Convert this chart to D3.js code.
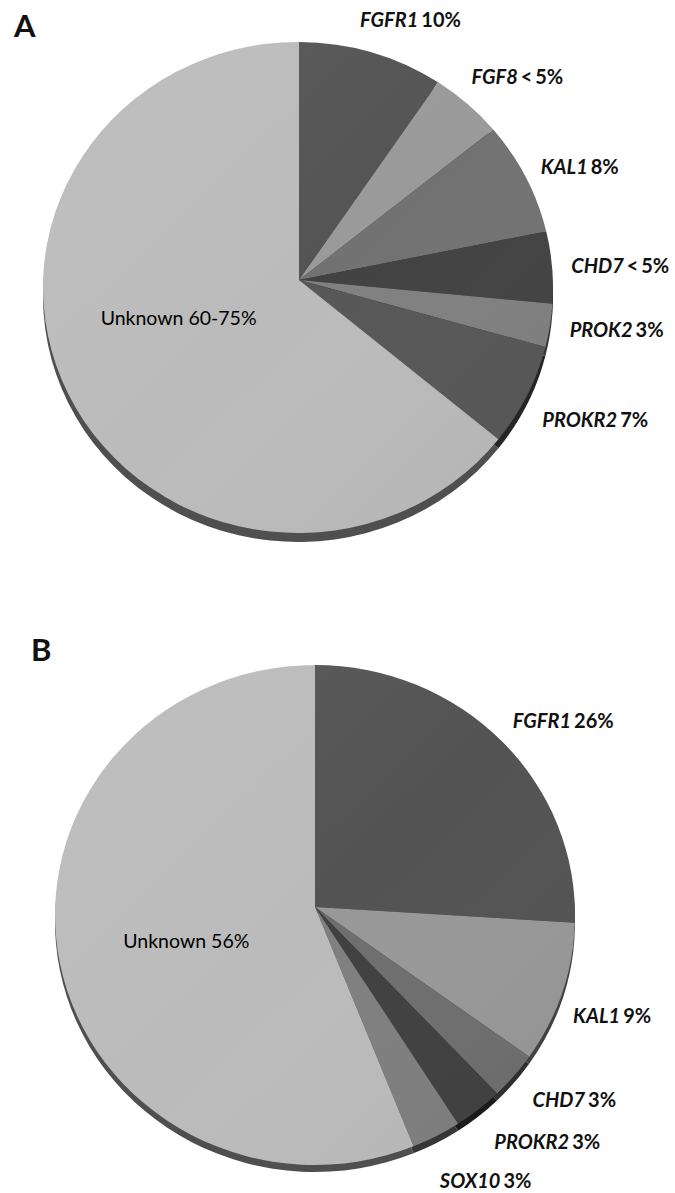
<!DOCTYPE html>
<html>
<head>
<meta charset="utf-8">
<script src="https://cdn.jsdelivr.net/npm/d3@7"></script>
<style>
  body { margin: 0; background: #fff; }
  svg { display: block; }
  text { font-family: Lato, "Open Sans", sans-serif; font-weight: 700; fill: #111; }
</style>
</head>
<body>
<svg id="chart" width="675" height="1193"></svg>
<script>
// ---- Panel A: genes implicated in Kallmann syndrome / nCHH ----
const genesA  = ["FGFR1", "FGF8", "KAL1", "CHD7", "PROK2", "PROKR2", "Unknown"];
const valuesA = [10, 5, 8, 5, 3, 7, 67.5];
const pctA    = ["10%", "< 5%", "8%", "< 5%", "3%", "7%", "60-75%"];

// ---- Panel B ----
const genesB  = ["FGFR1", "KAL1", "CHD7", "PROKR2", "SOX10", "Unknown"];
const valuesB = [26, 9, 3, 3, 3, 56];
const pctB    = ["26%", "9%", "3%", "3%", "3%", "56%"];

// ---- styling / layout ----
const fillsA = ["#545454", "#9a9a9a", "#727272", "#424242", "#808080", "#575757", "#bbbbbb"];
const fillsB = ["#535353", "#989898", "#6e6e6e", "#404040", "#7f7f7f", "#bbbbbb"];

const layoutA = { letter: "A", letterX: 14, letterY: 37, cx: 298, cy: 287.5, rx: 255, ry: 245.5,
                  ax: 299, ay: 280, depth: 9,
                  nudge: [[0, -2], [0, -4], [0, 2], [-2, 0], [0, 0], [0, 14], [-5, -14]] };
const layoutB = { letter: "B", letterX: 31, letterY: 661, cx: 315, cy: 915, rx: 260, ry: 250,
                  ax: 315, ay: 907, depth: 7,
                  nudge: [[6, 2], [-6, 16], [8, 11], [9, 18], [0, 29], [-1, 11]] };

const svg = d3.select("#chart");
svg.append("rect").attr("width", 675).attr("height", 1193).attr("fill", "#fff");

const defs = svg.append("defs");
const shade = defs.append("linearGradient").attr("id", "shade")
  .attr("x1", 0).attr("y1", 0).attr("x2", 1).attr("y2", 1);
shade.append("stop").attr("offset", 0).attr("stop-color", "#fff").attr("stop-opacity", 0.07);
shade.append("stop").attr("offset", 0.5).attr("stop-color", "#fff").attr("stop-opacity", 0);
shade.append("stop").attr("offset", 1).attr("stop-color", "#000").attr("stop-opacity", 0.06);

function drawPie(genes, values, pcts, fills, L) {
  const g = svg.append("g");
  const pie = d3.pie().sort(null).value(d => d.value);
  const data = genes.map((gene, i) => ({ gene, value: values[i], pct: pcts[i], fill: fills[i], i }));
  const arcs = pie(data);

  // perspective: the apex sits slightly above the centre of the rim ellipse
  const u = (L.ax - L.cx) / L.rx, v = (L.ay - L.cy) / L.ry;
  function rim(theta) {
    const dx = Math.sin(theta), dy = -Math.cos(theta);
    const b = u * dx + v * dy, c = u * u + v * v - 1;
    const t = -b + Math.sqrt(b * b - c);
    const nx = u + t * dx, ny = v + t * dy;
    return { x: L.cx + L.rx * nx, y: L.cy + L.ry * ny, phi: Math.atan2(nx, -ny) };
  }
  function slicePath(a) {
    const p0 = rim(a.startAngle), p1 = rim(a.endAngle);
    let span = p1.phi - p0.phi;
    while (span < 0) span += 2 * Math.PI;
    if (a.endAngle - a.startAngle >= 2 * Math.PI - 1e-9) span = 2 * Math.PI;
    const large = span > Math.PI ? 1 : 0;
    return `M${L.ax},${L.ay}L${p0.x},${p0.y}A${L.rx},${L.ry} 0 ${large} 1 ${p1.x},${p1.y}Z`;
  }

  // side wall (visible as a thin band along the front rim)
  g.append("g").attr("transform", `translate(0,${L.depth})`)
    .selectAll("path").data(arcs).join("path")
    .attr("d", slicePath)
    .attr("fill", d => d3.color(d.data.fill).darker(2.4).formatHex());

  // top face
  g.append("g").selectAll("path").data(arcs).join("path")
    .attr("d", slicePath)
    .attr("fill", d => d.data.fill);

  g.append("ellipse").attr("cx", L.cx).attr("cy", L.cy).attr("rx", L.rx).attr("ry", L.ry)
    .attr("fill", "url(#shade)");

  // labels
  const lab = g.append("g");
  arcs.forEach((a, i) => {
    const mid = (a.startAngle + a.endAngle) / 2;
    const isUnknown = a.data.gene === "Unknown";
    const k = isUnknown ? 0.5 : 1.1;
    let x = L.ax + k * L.rx * Math.sin(mid);
    let y = L.ay - k * L.ry * Math.cos(mid);
    const n = L.nudge[i];
    const t = lab.append("text").attr("dy", "0.35em");
    if (isUnknown) {
      t.attr("font-size", 19.5).attr("x", x + n[0]).attr("y", y + n[1]).attr("text-anchor", "middle")
        .style("font-weight", 400).style("fill", "#000").text(`${a.data.gene} ${a.data.pct}`);
    } else {
      x -= 5 + 17 * Math.max(Math.cos(mid), 0);
      t.attr("font-size", 20).style("word-spacing", "-2px")
        .attr("x", x + n[0]).attr("y", y + n[1]).attr("text-anchor", "start");
      t.append("tspan").style("font-style", "italic").text(a.data.gene);
      t.append("tspan").attr("dx", 3).text(a.data.pct);
    }
  });

  svg.append("text").attr("x", L.letterX).attr("y", L.letterY)
    .attr("font-size", 31).text(L.letter);
}

drawPie(genesA, valuesA, pctA, fillsA, layoutA);
drawPie(genesB, valuesB, pctB, fillsB, layoutB);
</script>
</body>
</html>
